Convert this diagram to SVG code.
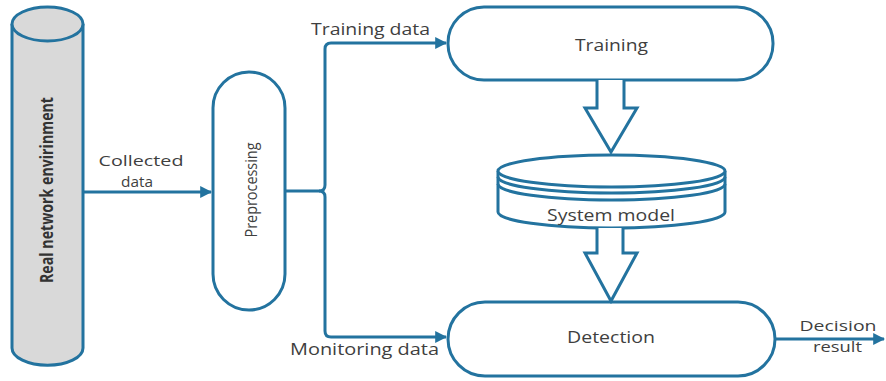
<svg xmlns="http://www.w3.org/2000/svg" width="886" height="381" viewBox="0 0 886 381">
<style>
.s{fill:none;stroke:#23739f;stroke-width:3;stroke-linejoin:round}
.w{fill:#fff;stroke:#23739f;stroke-width:3}
.t{font-family:"Open Sans","Liberation Sans",sans-serif;font-size:16px;fill:#3f3f3f;text-anchor:middle}
.u{font-size:15px}
</style>
<defs>
<marker id="ah" viewBox="0 0 10 10" refX="9" refY="5" markerWidth="4" markerHeight="4" orient="auto" markerUnits="strokeWidth">
<path d="M0,0 L10,5 L0,10 z" fill="#23739f"/>
</marker>
</defs>
<rect width="886" height="381" fill="#fff"/>
<g id="env">
<path d="M12,24 L12,348 A35,17 0 0 0 83,348 L83,24" fill="#d9d9d9" stroke="#23739f" stroke-width="3"/>
<ellipse cx="47.5" cy="24" rx="35.5" ry="17" fill="#d9d9d9" stroke="#23739f" stroke-width="3"/>
<text class="t" transform="translate(53,190) rotate(-90)" style="font-weight:bold;fill:#333;font-size:17px" textLength="186" lengthAdjust="spacingAndGlyphs">Real network envirinment</text>
</g>
<g id="preprocessing">
<rect class="w" x="213" y="72" width="72" height="238" rx="36"/>
<text class="t" transform="translate(257,190) rotate(-90)" textLength="95" lengthAdjust="spacingAndGlyphs">Preprocessing</text>
</g>
<g id="training">
<rect class="w" x="448" y="7" width="325" height="73" rx="36"/>
<text class="t" x="611.5" y="51" textLength="73" lengthAdjust="spacingAndGlyphs">Training</text>
</g>
<g id="model">
<path d="M498,171 L498,212 A113.5,16 0 0 0 725,212 L725,171" class="w"/>
<ellipse cx="611.5" cy="171" rx="113.5" ry="16" class="w"/>
<path d="M498,177 A113.5,16 0 0 0 725,177 M498,184 A113.5,16 0 0 0 725,184" class="s" stroke-width="2.5"/>
<text class="t" x="611" y="221" textLength="128" lengthAdjust="spacingAndGlyphs">System model</text>
</g>
<g id="detection">
<rect class="w" x="448" y="302" width="327" height="74" rx="37"/>
<text class="t" x="611" y="343" textLength="88" lengthAdjust="spacingAndGlyphs">Detection</text>
</g>
<g id="connectors">
<path class="s" d="M83,192 L211,192" marker-end="url(#ah)"/>
<path class="s" d="M285,191 L319,191 Q325,191 325,185 L325,49 Q325,43 331,43 L446,43" marker-end="url(#ah)"/>
<path class="s" d="M319,191 Q325,191 325,197 L325,331 Q325,337 331,337 L446,337" marker-end="url(#ah)"/>
<path class="s" d="M775,339 L884,339" marker-end="url(#ah)"/>
<path class="w" d="M597,80 L597,108 L585,108 L611,152 L637,108 L624,108 L624,80"/>
<path class="w" d="M597,228 L597,253 L585,253 L611,301 L637,253 L623,253 L623,228"/>
</g>
<g id="labels">
<text class="t u" x="141" y="166" textLength="85" lengthAdjust="spacingAndGlyphs">Collected</text>
<text class="t u" x="137" y="187" textLength="32" lengthAdjust="spacingAndGlyphs">data</text>
<text class="t" x="370.5" y="35" textLength="119" lengthAdjust="spacingAndGlyphs">Training data</text>
<text class="t" x="364.5" y="355" textLength="149" lengthAdjust="spacingAndGlyphs">Monitoring data</text>
<text class="t u" x="838" y="331" textLength="77" lengthAdjust="spacingAndGlyphs">Decision</text>
<text class="t u" x="837.5" y="352" textLength="49" lengthAdjust="spacingAndGlyphs">result</text>
</g>
</svg>
